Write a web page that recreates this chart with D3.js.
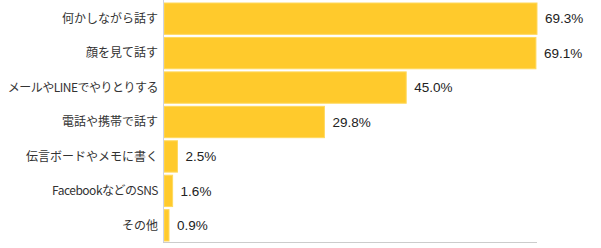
<!DOCTYPE html>
<html>
<head>
<meta charset="utf-8">
<script src="https://cdn.jsdelivr.net/npm/d3@7"></script>
<style>
  body { margin: 0; background: #fff; }
  text { font-family: "Noto Sans CJK JP", sans-serif; fill: #333; }
  text.val { font-family: "Liberation Sans", "DejaVu Sans", sans-serif; fill: #222; }
</style>
</head>
<body>
<div id="chart"></div>
<script>
var categories = ["何かしながら話す", "顔を見て話す", "メールやLINEでやりとりする", "電話や携帯で話す", "伝言ボードやメモに書く", "FacebookなどのSNS", "その他"];
var values = [69.3, 69.1, 45.0, 29.8, 2.5, 1.6, 0.9];
var valueLabels = ["69.3%", "69.1%", "45.0%", "29.8%", "2.5%", "1.6%", "0.9%"];

var draw = function() {
    var width = 601, height = 248;
    var left = 163, top = 3, bottom = 241;

    var svg = d3.select("#chart").append("svg")
        .attr("width", width)
        .attr("height", height);

    var x = d3.scaleLinear().domain([0, 69.3]).range([left + 1, 537]);
    var y = d3.scaleBand().domain(categories).range([top, bottom]).paddingInner(0.09).paddingOuter(0.0);

    var rows = categories.map(function(c, i) {
        return { name: c, v: values[i], label: valueLabels[i] };
    });

    var barW = d => Math.max(x(d.v) - x(0), 5);

    svg.append("g")
        .selectAll("rect")
        .data(rows)
        .join("rect")
            .attr("x", x(0))
            .attr("y", d => y(d.name))
            .attr("width", barW)
            .attr("height", y.bandwidth())
            .attr("fill", "#ffca2c")
            .attr("stroke", "#ffd95e")
            .attr("stroke-width", 1);

    // axis lines
    svg.append("line")
        .attr("x1", left + 0.5).attr("x2", left + 0.5)
        .attr("y1", 0).attr("y2", 242)
        .attr("stroke", "#cfd3e0");
    svg.append("line")
        .attr("x1", left).attr("x2", 537)
        .attr("y1", 242.5).attr("y2", 242.5)
        .attr("stroke", "#cccccc");

    svg.append("g")
        .selectAll("text")
        .data(rows)
        .join("text")
            .attr("x", left - 5)
            .attr("y", d => y(d.name) + y.bandwidth() / 2)
            .attr("dy", "0.35em")
            .attr("text-anchor", "end")
            .attr("font-size", 12)
            .attr("letter-spacing", d => /[A-Za-z]/.test(d.name) ? "-0.5px" : "0")
            .text(d => d.name);

    svg.append("g")
        .selectAll("text")
        .data(rows)
        .join("text")
            .attr("class", "val")
            .attr("x", d => x(0) + barW(d) + 8)
            .attr("y", d => y(d.name) + y.bandwidth() / 2)
            .attr("dy", "0.35em")
            .attr("font-size", 13.5)
            .text(d => d.label);
};

window.onload = draw;
</script>
</body>
</html>
